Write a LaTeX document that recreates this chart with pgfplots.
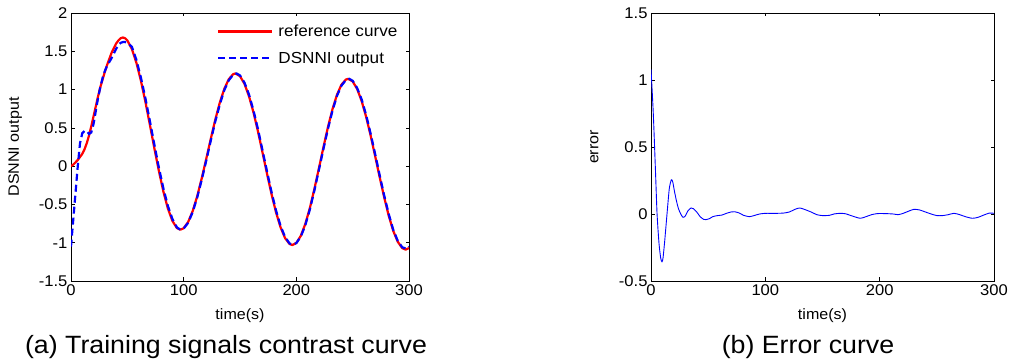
\documentclass[border=0pt]{standalone}
\usepackage{pgfplots}
\pgfplotsset{compat=1.18}
\usepackage{pgfplotstable}
\usepackage{fontspec}
\setmainfont{Liberation Sans}[FakeStretch=1.07]
\definecolor{mred}{RGB}{255,0,0}
\definecolor{mblue}{RGB}{0,0,255}

\pgfplotstableread{
t v
0 0
2 0.02
4 0.05
6 0.08
8 0.12
10 0.16
12 0.22
14 0.30
16 0.40
18 0.52
20 0.65
22 0.78
24 0.91
26 1.03
28 1.13
30 1.23
32 1.32
34 1.40
36 1.48
38 1.54
40 1.60
42 1.64
44 1.67
46 1.68
48 1.67
50 1.642
54 1.531
58 1.352
62 1.119
66 0.843
70 0.541
74 0.233
78 -0.063
82 -0.332
86 -0.554
90 -0.715
94 -0.809
97 -0.83
100 -0.811
104 -0.729
108 -0.587
112 -0.394
116 -0.161
120 0.092
124 0.352
128 0.603
132 0.826
136 1.007
140 1.135
144 1.202
146 1.21
150 1.175
154 1.074
158 0.912
162 0.700
166 0.450
170 0.177
174 -0.101
178 -0.366
182 -0.605
186 -0.799
190 -0.940
194 -1.017
196.5 -1.03
200 -1.003
204 -0.909
208 -0.754
212 -0.547
216 -0.300
220 -0.031
224 0.243
228 0.506
232 0.739
236 0.929
240 1.063
244 1.131
246 1.14
250 1.107
254 1.007
258 0.849
262 0.642
266 0.396
270 0.128
274 -0.146
278 -0.409
282 -0.647
286 -0.845
290 -0.987
294 -1.071
297 -1.09
300 -1.07
}\refdata

\pgfplotstableread{
t v
0 -1.05
2 -0.70
4 -0.35
6 0.00
8 0.30
10 0.43
12 0.46
14 0.46
16 0.42
18 0.44
20 0.55
22 0.72
24 0.89
26 1.03
28 1.15
30 1.24
32 1.31
34 1.36
36 1.41
38 1.47
40 1.53
42 1.58
44 1.61
46 1.62
48 1.62
50 1.61
54 1.56
58 1.39
62 1.16
66 0.89
70 0.59
74 0.28
78 -0.02
82 -0.29
86 -0.52
90 -0.69
94 -0.80
97 -0.83
100 -0.815
104 -0.74
108 -0.60
112 -0.41
116 -0.18
120 0.07
124 0.33
128 0.58
132 0.80
136 0.99
140 1.12
144 1.195
147 1.21
150 1.185
154 1.09
158 0.935
162 0.725
166 0.48
170 0.205
174 -0.07
178 -0.34
182 -0.58
186 -0.78
190 -0.925
194 -1.01
197 -1.025
200 -1.005
204 -0.92
208 -0.77
212 -0.565
216 -0.32
220 -0.05
224 0.22
228 0.485
232 0.72
236 0.915
240 1.05
244 1.125
247 1.14
250 1.115
254 1.02
258 0.87
262 0.665
266 0.42
270 0.155
274 -0.12
278 -0.385
282 -0.625
286 -0.83
290 -0.975
294 -1.06
298 -1.08
300 -1.05
}\outdata

\pgfplotstableread{
t v
0 1.08
2 0.75
4 0.30
5.3 0.0
7 -0.22
8.5 -0.33
9.6 -0.356
10.5 -0.33
12 -0.20
14 0.0
16 0.19
17.8 0.255
19 0.24
20.5 0.17
22.2 0.10
24 0.04
26 0.0
28 -0.025
30 -0.015
32 0.02
35 0.045
37 0.04
40 0.015
43 -0.02
46 -0.04
48 -0.042
51 -0.035
54 -0.02
58 -0.012
62 -0.008
66 0.005
70 0.015
73 0.017
77 0.008
81 -0.01
86 -0.02
90 -0.012
95 0.0
100 0.005
110 0.005
116 0.007
121 0.015
126 0.035
130 0.045
134 0.035
140 0.015
145 -0.005
150 -0.012
156 -0.01
160 0.0
165 0.005
170 0.002
176 -0.015
183 -0.032
188 -0.02
193 -0.005
198 0.003
205 0.003
212 0.0
216 -0.005
220 0.003
225 0.02
230 0.035
235 0.03
240 0.015
245 0.0
250 -0.012
255 -0.012
260 -0.005
265 0.005
270 -0.005
275 -0.02
281 -0.032
286 -0.025
291 -0.008
296 0.007
300 0.005
}\errdata

\pgfplotsset{
  mstyle/.style={
    scale only axis,
    height=268pt,
    xmin=0, xmax=300,
    xtick={0,100,200,300},
    tick align=inside,
    major tick length=3.5pt,
    axis line style={black, line width=0.7pt},
    every tick/.style={black, line width=0.6pt},
    scaled ticks=false,
    /pgf/number format/assume math mode=true,
    tick label style={font=\fontsize{15.5}{18}\selectfont},
    label style={font=\fontsize{15}{18}\selectfont},
    xlabel={time(s)},
    xlabel style={at={(axis description cs:0.5,-0.1455)}, anchor=base},
    ylabel style={at={(axis description cs:-0.165,0.5)}, anchor=center},
  }
}

\begin{document}
\begin{tikzpicture}
\path[use as bounding box] (0pt,0pt) rectangle (1011pt,363pt);

\begin{axis}[mstyle,
  at={(71pt,82pt)}, anchor=south west,
  width=338pt,
  ymin=-1.5, ymax=2,
  ytick={-1.5,-1,-0.5,0,0.5,1,1.5,2},
  ylabel={DSNNI output},
  legend cell align=left,
  legend style={draw=none, fill=none, at={(axis description cs:0.432,0.96)}, anchor=north west,
    font=\fontsize{16}{19}\selectfont, row sep=12pt, inner sep=0pt,
    nodes={inner sep=1pt}},
  legend image code/.code={\draw[#1] (0pt,0pt) -- (54pt,0pt);},
]
\addplot[mred, line width=2.2pt, line join=round] table[x=t,y=v] {\refdata};
\addlegendentry{\hspace*{4pt}reference curve}
\addplot[mblue, line width=2.2pt, dash pattern=on 7pt off 4pt] table[x=t,y=v] {\outdata};
\addlegendentry{\hspace*{4pt}DSNNI output}
\end{axis}

\begin{axis}[mstyle,
  at={(651pt,82pt)}, anchor=south west,
  width=343pt,
  ymin=-0.5, ymax=1.5,
  ytick={-0.5,0,0.5,1,1.5},
  ylabel={error},
]
\addplot[mblue, line width=0.9pt, smooth, tension=0.4] table[x=t,y=v] {\errdata};
\end{axis}

\node[anchor=base, font=\fontsize{25}{29}\selectfont] at (226pt,9pt) {(a) Training signals contrast curve};
\node[anchor=base, font=\fontsize{25}{29}\selectfont] at (808pt,9pt) {(b) Error curve};
\end{tikzpicture}
\end{document}
